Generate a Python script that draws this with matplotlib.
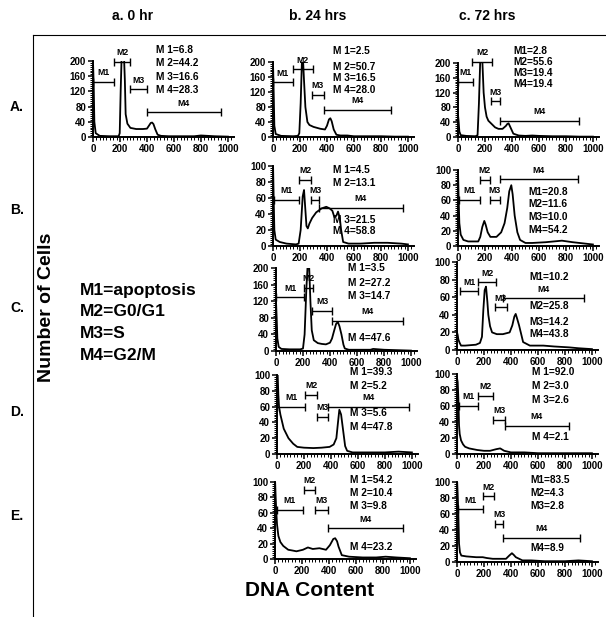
import matplotlib
matplotlib.use("Agg")
import matplotlib.pyplot as plt
from matplotlib.lines import Line2D
from matplotlib.ticker import MultipleLocator

# histogram traces: DNA content channel vs number of cells
dna_Aa = [0, 5, 10, 20, 50, 120, 190, 198, 205, 212, 230, 236, 242, 255, 277, 320, 370, 400, 415, 428, 438, 448, 462, 479, 504, 560, 650, 750, 800, 850, 900, 1000]
cells_Aa = [200, 140, 40, 10, 3, 2, 2, 10, 120, 210, 210, 150, 60, 35, 24, 21, 21, 22, 30, 37, 38, 34, 20, 6, 3, 2, 2, 2, 4, 3, 2, 1]

dna_Ab = [0, 5, 10, 20, 60, 150, 185, 195, 205, 215, 222, 230, 240, 255, 270, 300, 350, 385, 400, 415, 425, 435, 450, 470, 500, 550, 600, 700, 800, 900, 1000]
cells_Ab = [200, 120, 30, 8, 3, 2, 3, 10, 90, 210, 210, 150, 80, 40, 32, 27, 22, 20, 30, 47, 50, 42, 20, 6, 4, 4, 2, 2, 2, 1, 1]

dna_Ac = [0, 5, 10, 20, 60, 130, 145, 155, 165, 180, 190, 200, 212, 225, 250, 275, 300, 330, 355, 365, 375, 390, 410, 450, 500, 550, 600, 700, 800, 900, 1000]
cells_Ac = [60, 40, 15, 5, 3, 2, 5, 90, 210, 210, 120, 80, 55, 44, 35, 26, 22, 22, 30, 35, 37, 25, 9, 4, 3, 4, 3, 2, 2, 1, 1]

dna_Bb = [0, 5, 10, 20, 50, 100, 170, 190, 205, 220, 230, 238, 248, 258, 270, 290, 320, 360, 395, 420, 440, 455, 470, 482, 495, 505, 520, 560, 650, 750, 850, 950, 1000]
cells_Bb = [105, 60, 20, 8, 5, 3, 2, 3, 20, 62, 70, 50, 25, 22, 28, 35, 42, 47, 49, 47, 44, 36, 38, 43, 35, 20, 5, 3, 3, 4, 4, 3, 2]

dna_Bc = [0, 5, 10, 20, 40, 75, 150, 165, 180, 195, 205, 220, 240, 285, 320, 345, 365, 380, 395, 405, 420, 440, 460, 500, 550, 650, 770, 850, 950, 1000]
cells_Bc = [100, 60, 30, 15, 8, 6, 6, 12, 25, 33, 28, 18, 12, 12, 18, 30, 50, 72, 80, 68, 40, 18, 8, 4, 4, 5, 7, 5, 3, 2]

dna_Cb = [0, 5, 10, 20, 40, 100, 180, 200, 212, 225, 235, 245, 255, 265, 280, 310, 340, 370, 400, 415, 430, 445, 458, 470, 485, 500, 510, 540, 600, 700, 720, 800, 900, 1000]
cells_Cb = [120, 80, 30, 10, 5, 4, 4, 6, 40, 150, 210, 210, 120, 50, 26, 19, 17, 16, 20, 30, 48, 65, 70, 60, 40, 15, 6, 3, 3, 3, 5, 3, 2, 1]

dna_Cc = [0, 5, 10, 20, 30, 60, 140, 170, 185, 195, 205, 215, 225, 232, 245, 260, 295, 340, 390, 410, 425, 435, 445, 460, 490, 540, 640, 720, 830, 900, 1000]
cells_Cc = [20, 17, 12, 8, 5, 5, 6, 8, 15, 45, 68, 72, 55, 40, 27, 20, 18, 18, 20, 28, 38, 41, 36, 28, 9, 5, 5, 4, 3, 2, 1]

dna_Db = [0, 5, 10, 15, 25, 50, 85, 120, 150, 200, 270, 330, 390, 420, 440, 452, 462, 475, 490, 505, 520, 560, 650, 800, 900, 1000]
cells_Db = [105, 100, 75, 60, 50, 32, 20, 13, 9, 8, 7.5, 8, 9, 12, 20, 40, 56, 50, 30, 10, 4, 2, 2, 2, 3, 2]

dna_Dc = [0, 5, 10, 15, 20, 30, 45, 60, 90, 150, 200, 245, 290, 320, 350, 400, 500, 600, 800, 1000]
cells_Dc = [95, 90, 70, 36, 25, 17, 12, 9, 7, 5, 4, 4, 6, 7, 4, 2, 2, 1, 1, 1]

dna_Eb = [0, 5, 10, 15, 25, 40, 61, 98, 130, 159, 207, 244, 280, 329, 378, 407, 432, 446, 460, 471, 495, 549, 650, 750, 820, 900, 1000]
cells_Eb = [105, 80, 60, 45, 30, 22, 17, 12, 11, 10, 12, 15, 13, 14, 12, 18, 26, 27, 23, 16, 5, 3, 2, 2, 3, 2, 1]

dna_Ec = [0, 5, 10, 15, 22, 32, 69, 142, 191, 220, 265, 363, 387, 407, 420, 436, 485, 550, 650, 800, 900, 1000]
cells_Ec = [105, 85, 60, 23, 12, 8, 7, 6, 6, 5, 4, 4, 8, 11, 9, 6, 2, 2, 1, 1, 2, 1]

# marker gates M1..M4 (start, end channel)
gates_Aa = [(0, 159), (159, 272), (272, 403), (398, 945)]
gates_Ab = [(0, 147), (147, 295), (287, 378), (381, 872)]
gates_Ac = [(0, 112), (107, 250), (242, 312), (312, 900)]
gates_Bb = [(5, 193), (193, 284), (284, 341), (341, 963)]
gates_Bc = [(7, 165), (160, 240), (235, 309), (309, 889)]
gates_Cb = [(0, 210), (210, 272), (270, 417), (417, 939)]
gates_Cc = [(24, 159), (159, 289), (282, 368), (343, 943)]
gates_Db = [(0, 208), (208, 299), (299, 380), (380, 980)]
gates_Dc = [(12, 159), (159, 269), (269, 355), (355, 828)]
gates_Eb = [(12, 207), (212, 298), (300, 395), (395, 946)]
gates_Ec = [(7, 196), (196, 277), (284, 343), (338, 914)]

# percentages in each gate
stats_Aa = ["M 1=6.8", "M 2=44.2", "M 3=16.6", "M 4=28.3"]
stats_Ab = ["M 1=2.5", "M 2=50.7", "M 3=16.5", "M 4=28.0"]
stats_Ac = ["M1=2.8", "M2=55.6", "M3=19.4", "M4=19.4"]
stats_Bb = ["M 1=4.5", "M 2=13.1", "M 3=21.5", "M 4=58.8"]
stats_Bc = ["M1=20.8", "M2=11.6", "M3=10.0", "M4=54.2"]
stats_Cb = ["M 1=3.5", "M 2=27.2", "M 3=14.7", "M 4=47.6"]
stats_Cc = ["M1=10.2", "M2=25.8", "M3=14.2", "M4=43.8"]
stats_Db = ["M 1=39.3", "M 2=5.2", "M 3=5.6", "M 4=47.8"]
stats_Dc = ["M 1=92.0", "M 2=3.0", "M 3=2.6", "M 4=2.1"]
stats_Eb = ["M 1=54.2", "M 2=10.4", "M 3=9.8", "M 4=23.2"]
stats_Ec = ["M1=83.5", "M2=4.3", "M3=2.8", "M4=8.9"]

col_titles = ["a. 0 hr", "b. 24 hrs", "c. 72 hrs"]
row_titles = ["A.", "B.", "C.", "D.", "E."]
legend_lines = ["M1=apoptosis", "M2=G0/G1", "M3=S", "M4=G2/M"]

W, H = 606, 617

# layout: spine x (px), top y (px), bottom y (px), y max
layout = {
    "Aa": (93, 61, 137, 200), "Ab": (273, 62, 137, 200), "Ac": (458, 63, 137, 200),
    "Bb": (273, 166, 246, 100), "Bc": (458, 170, 246, 100),
    "Cb": (276, 268, 351, 200), "Cc": (457, 262, 350, 100),
    "Db": (277, 375, 454, 100), "Dc": (457, 374, 454, 100),
    "Eb": (275, 482, 559, 100), "Ec": (457, 482, 562, 100),
}
# y level of each gate bar
gate_levels = {
    "Aa": [146, 198, 126, 65], "Ab": [146, 181, 113, 72], "Ac": [150, 203, 97, 44],
    "Bb": [57.5, 82.5, 58, 48], "Bc": [61, 87, 61, 88],
    "Cb": [130, 152, 97, 73], "Cc": [67, 77, 48.5, 59],
    "Db": [60, 75, 47, 60], "Dc": [60, 72.5, 43, 35],
    "Eb": [64, 90, 64, 40], "Ec": [66, 82, 48, 30],
}
# stats text: x and y of each line
stats_pos = {
    "Aa": (466, [230, 194, 157, 124]), "Ab": (447, [230, 188, 157, 126]),
    "Ac": (412, [233, 203, 173, 143]),
    "Bb": (445, [95, 79, 32.5, 19]), "Bc": (519, [71.5, 55, 38, 21]),
    "Cb": (537, [200, 165, 132, 31]), "Cc": (540, [83, 50, 32, 18]),
    "Db": (540, [104, 86, 51.5, 34.5]), "Dc": (559, [103, 85, 67.5, 21.6]),
    "Eb": (554, [103, 86, 69, 15.5]), "Ec": (547, [103, 86, 70, 18]),
}

panels = {
    "Aa": (dna_Aa, cells_Aa, gates_Aa, stats_Aa),
    "Ab": (dna_Ab, cells_Ab, gates_Ab, stats_Ab),
    "Ac": (dna_Ac, cells_Ac, gates_Ac, stats_Ac),
    "Bb": (dna_Bb, cells_Bb, gates_Bb, stats_Bb),
    "Bc": (dna_Bc, cells_Bc, gates_Bc, stats_Bc),
    "Cb": (dna_Cb, cells_Cb, gates_Cb, stats_Cb),
    "Cc": (dna_Cc, cells_Cc, gates_Cc, stats_Cc),
    "Db": (dna_Db, cells_Db, gates_Db, stats_Db),
    "Dc": (dna_Dc, cells_Dc, gates_Dc, stats_Dc),
    "Eb": (dna_Eb, cells_Eb, gates_Eb, stats_Eb),
    "Ec": (dna_Ec, cells_Ec, gates_Ec, stats_Ec),
}

plt.rcParams['font.family'] = ['Liberation Sans', 'DejaVu Sans']
plt.rcParams['font.weight'] = 'bold'


def draw_panel(fig, key):
    dna, cells, gates, stats = panels[key]
    sx, top, bottom, ymax = layout[key]
    width = 141
    ax = fig.add_axes([sx / W, 1 - bottom / H, width / W, (bottom - top) / H])
    ax.plot(dna, cells, color="black", lw=1.3)
    ax.set_xlim(0, 1045)
    ax.set_ylim(0, ymax)
    for side in ("top", "right"):
        ax.spines[side].set_visible(False)
    for side in ("left", "bottom"):
        ax.spines[side].set_linewidth(1.4)
    ax.set_xticks(range(0, 1001, 200))
    ax.xaxis.set_minor_locator(MultipleLocator(25))
    ax.set_yticks(range(0, ymax + 1, ymax // 5))
    ax.yaxis.set_minor_locator(MultipleLocator(ymax / 40))
    ax.tick_params(which="major", length=3.5, width=1.1, labelsize=7, pad=1.5)
    ax.tick_params(which="minor", length=2.2, width=0.7)
    # gate bars with end caps and their labels
    levels = gate_levels[key]
    for i, (g0, g1) in enumerate(gates):
        lvl = levels[i]
        ax.errorbar((g0 + g1) / 2, lvl, xerr=(g1 - g0) / 2, fmt="none",
                    ecolor="black", elinewidth=1.0, capsize=2.8, capthick=1.0,
                    clip_on=False)
        ax.annotate("M%d" % (i + 1), xy=((g0 + g1) / 2, lvl), xytext=(0, 6.5),
                    textcoords="offset points", ha="center", va="center",
                    fontsize=6.3, annotation_clip=False)
    tx, tys = stats_pos[key]
    for line, ty in zip(stats, tys):
        ax.text(tx, ty, line, fontsize=7.3, ha="left", va="center", clip_on=False)
    return ax


fig = plt.figure(figsize=(W / 100, H / 100), dpi=100)

for key in panels:
    draw_panel(fig, key)

# frame lines
fig.add_artist(Line2D([33 / W, 33 / W], [1 - 35 / H, 0], color="black", lw=0.8))
fig.add_artist(Line2D([33 / W, 1], [1 - 35 / H, 1 - 35 / H], color="black", lw=0.8))

for title, cx in zip(col_titles, [133, 318, 487]):
    fig.text(cx / W, 1 - 16 / H, title, ha="center", va="center", fontsize=10)
for title, cy in zip(row_titles, [107, 210, 308, 412, 516]):
    fig.text(17 / W, 1 - cy / H, title, ha="center", va="center", fontsize=10)
for line, ly in zip(legend_lines, [290, 312, 333, 355]):
    fig.text(80 / W, 1 - ly / H, line, ha="left", va="center", fontsize=12.5)

fig.text(47 / W, 1 - 307 / H, "Number of Cells", rotation=90, ha="center",
         va="center", fontsize=14)
fig.text(310 / W, 1 - 590 / H, "DNA Content", ha="center", va="center", fontsize=15)

fig.savefig("out.png", dpi=100)
